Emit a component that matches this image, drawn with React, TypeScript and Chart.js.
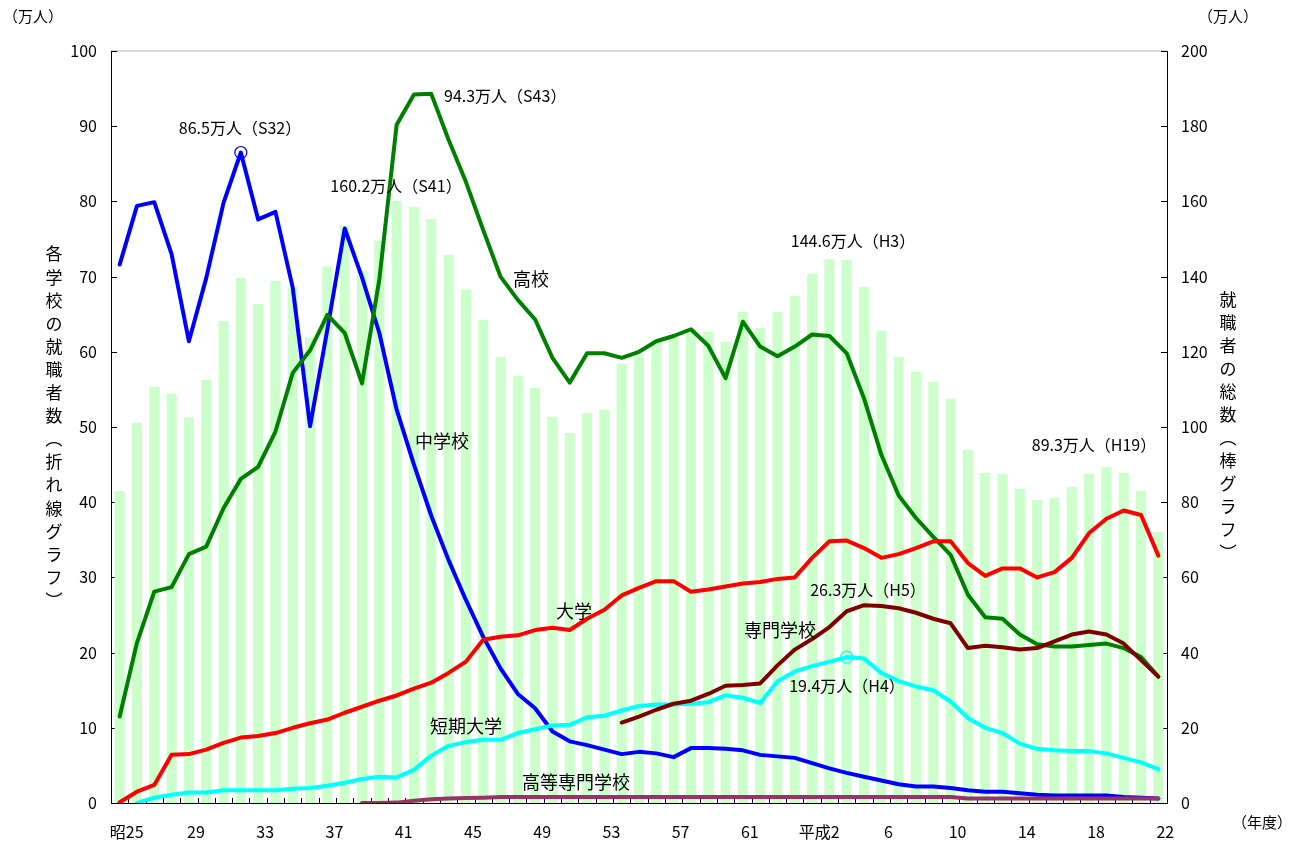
import React, { useEffect, useRef } from 'react';
import { Chart, registerables } from 'chart.js';

Chart.register(...registerables);

// Fiscal years 昭和25 (1950) … 平成22 (2010)
const categories = [
  '1950', '1951', '1952', '1953', '1954', '1955', '1956', '1957', '1958', '1959',
  '1960', '1961', '1962', '1963', '1964', '1965', '1966', '1967', '1968', '1969',
  '1970', '1971', '1972', '1973', '1974', '1975', '1976', '1977', '1978', '1979',
  '1980', '1981', '1982', '1983', '1984', '1985', '1986', '1987', '1988', '1989',
  '1990', '1991', '1992', '1993', '1994', '1995', '1996', '1997', '1998', '1999',
  '2000', '2001', '2002', '2003', '2004', '2005', '2006', '2007', '2008', '2009',
  '2010',
];

const xTickLabels = ['昭25', '29', '33', '37', '41', '45', '49', '53', '57', '61', '平成2', '6', '10', '14', '18', '22'];

// 就職者の総数 (万人, right axis, bars)
const totalEmployed = [
  83.0, 101.1, 110.7, 108.8, 102.5, 112.5, 128.2, 139.7, 132.7, 138.9,
  137.2, 123.8, 142.7, 153.5, 141.6, 149.6, 160.2, 158.6, 155.3, 145.8,
  136.5, 128.5, 118.7, 113.6, 110.4, 102.7, 98.4, 103.7, 104.6, 116.8,
  119.0, 123.2, 124.1, 125.8, 125.3, 122.6, 130.6, 126.4, 130.6, 134.9,
  140.7, 144.6, 144.5, 137.3, 125.6, 118.7, 114.7, 112.0, 107.5, 93.9,
  87.8, 87.5, 83.6, 80.6, 81.2, 84.1, 87.5, 89.3, 87.8, 83.0,
  72.1,
];

// 中学校 (万人)
const juniorHigh = [
  71.6, 79.4, 79.9, 73.0, 61.4, 69.8, 79.8, 86.5, 77.6, 78.6,
  68.5, 50.1, 63.0, 76.4, 69.9, 62.5, 52.3, 45.0, 38.2, 32.3,
  27.0, 22.1, 17.9, 14.5, 12.6, 9.5, 8.2, 7.7, 7.1, 6.5,
  6.8, 6.6, 6.1, 7.3, 7.3, 7.2, 7.0, 6.4, 6.2, 6.0,
  5.3, 4.6, 4.0, 3.5, 3.0, 2.5, 2.2, 2.2, 2.0, 1.7,
  1.5, 1.5, 1.3, 1.1, 1.0, 1.0, 1.0, 1.0, 0.8, 0.7,
  0.6,
];

// 高校 (万人)
const highSchool = [
  11.5, 21.3, 28.1, 28.7, 33.1, 34.1, 39.2, 43.1, 44.7, 49.4,
  57.2, 60.2, 64.9, 62.5, 55.8, 69.6, 90.2, 94.2, 94.3, 88.2,
  82.6, 76.2, 70.0, 66.9, 64.3, 59.2, 55.9, 59.8, 59.8, 59.2,
  60.0, 61.4, 62.1, 63.0, 60.8, 56.5, 64.0, 60.7, 59.4, 60.7,
  62.3, 62.1, 59.8, 53.8, 46.3, 40.9, 37.9, 35.4, 33.0, 27.7,
  24.7, 24.5, 22.4, 21.1, 20.8, 20.8, 21.0, 21.2, 20.6, 19.4,
  16.8,
];

// 大学 (万人)
const university = [
  0.1, 1.5, 2.4, 6.4, 6.5, 7.1, 8.0, 8.7, 8.9, 9.3,
  10.0, 10.6, 11.1, 12.0, 12.8, 13.6, 14.3, 15.2, 16.0, 17.3,
  18.8, 21.7, 22.1, 22.3, 23.0, 23.3, 23.0, 24.5, 25.7, 27.6,
  28.6, 29.5, 29.5, 28.1, 28.4, 28.8, 29.2, 29.4, 29.8, 30.0,
  32.6, 34.8, 34.9, 33.9, 32.6, 33.1, 33.9, 34.8, 34.8, 31.9,
  30.2, 31.2, 31.2, 30.0, 30.7, 32.6, 35.9, 37.8, 38.9, 38.3,
  32.9,
];

// 短期大学 (万人)
const juniorCollege = [
  null, 0.0, 0.7, 1.1, 1.4, 1.4, 1.7, 1.7, 1.7, 1.7,
  1.9, 2.0, 2.3, 2.7, 3.2, 3.5, 3.4, 4.4, 6.3, 7.6,
  8.1, 8.4, 8.4, 9.3, 9.8, 10.3, 10.4, 11.4, 11.6, 12.3,
  12.9, 13.1, 13.1, 13.2, 13.4, 14.3, 14.0, 13.3, 16.2, 17.5,
  18.2, 18.8, 19.4, 19.2, 17.3, 16.2, 15.5, 15.0, 13.5, 11.3,
  10.0, 9.3, 7.9, 7.2, 7.0, 6.9, 6.9, 6.6, 6.0, 5.4,
  4.5,
];

// 専門学校 (万人)
const specialTraining = [
  null, null, null, null, null, null, null, null, null, null,
  null, null, null, null, null, null, null, null, null, null,
  null, null, null, null, null, null, null, null, null, 10.7,
  11.5, 12.4, 13.2, 13.6, 14.5, 15.6, 15.7, 15.9, 18.3, 20.4,
  21.8, 23.4, 25.5, 26.3, 26.2, 25.9, 25.3, 24.5, 23.9, 20.6,
  20.9, 20.7, 20.4, 20.6, 21.5, 22.4, 22.8, 22.4, 21.2, 19.0,
  16.8,
];

// 高等専門学校 (万人)
const technicalCollege = [
  null, null, null, null, null, null, null, null, null, null,
  null, null, null, null, 0.0, 0.0, 0.05, 0.3, 0.5, 0.6,
  0.65, 0.7, 0.8, 0.8, 0.8, 0.8, 0.8, 0.8, 0.8, 0.8,
  0.8, 0.8, 0.8, 0.8, 0.8, 0.8, 0.8, 0.8, 0.8, 0.8,
  0.8, 0.8, 0.8, 0.8, 0.8, 0.8, 0.8, 0.8, 0.8, 0.6,
  0.6, 0.6, 0.6, 0.6, 0.6, 0.6, 0.6, 0.6, 0.6, 0.6,
  0.6,
];

const juniorHighPeakIndex = 7; // S32
const juniorCollegePeakIndex = 42; // H4

const FONT = '"Noto Sans CJK JP", "Noto Sans", sans-serif';

const leftTitle = '各学校の就職者数︵折れ線グラフ︶';
const rightTitle = '就職者の総数︵棒グラフ︶';

type Note = { text: string; x: number; y: number; align: CanvasTextAlign; size: number };

const notes: Note[] = [
  { text: '86.5万人（S32）', x: 240, y: 128, align: 'center', size: 16 },
  { text: '160.2万人（S41）', x: 396, y: 186, align: 'center', size: 16 },
  { text: '94.3万人（S43）', x: 444, y: 96, align: 'left', size: 16 },
  { text: '144.6万人（H3）', x: 853, y: 241, align: 'center', size: 16 },
  { text: '89.3万人（H19）', x: 1094, y: 445, align: 'center', size: 16 },
  { text: '26.3万人（H5）', x: 868, y: 590, align: 'center', size: 16 },
  { text: '19.4万人（H4）', x: 847, y: 686, align: 'center', size: 16 },
  { text: '高校', x: 531, y: 279, align: 'center', size: 18 },
  { text: '中学校', x: 442, y: 441, align: 'center', size: 18 },
  { text: '大学', x: 574, y: 611, align: 'center', size: 18 },
  { text: '専門学校', x: 780, y: 630, align: 'center', size: 18 },
  { text: '短期大学', x: 466, y: 726, align: 'center', size: 18 },
  { text: '高等専門学校', x: 576, y: 782, align: 'center', size: 18 },
  { text: '（万人）', x: 33, y: 16, align: 'center', size: 15 },
  { text: '（万人）', x: 1228, y: 16, align: 'center', size: 15 },
  { text: '（年度）', x: 1262, y: 822, align: 'center', size: 15 },
];

const decorPlugin = {
  id: 'decor',
  beforeDatasetsDraw(chart: any) {
    const { ctx, chartArea, scales } = chart;
    const { left, right, top, bottom } = chartArea;
    ctx.save();
    ctx.strokeStyle = '#d9d9d9';
    ctx.lineWidth = 2;
    ctx.beginPath();
    ctx.moveTo(left, top);
    ctx.lineTo(right, top);
    ctx.stroke();

    ctx.strokeStyle = '#000';
    ctx.lineWidth = 1;
    ctx.beginPath();
    for (let v = 0; v <= 100; v += 10) {
      const y = Math.round(scales.y.getPixelForValue(v)) + 0.5;
      ctx.moveTo(left, y);
      ctx.lineTo(left + 6, y);
    }
    for (let v = 0; v <= 200; v += 20) {
      const y = Math.round(scales.y1.getPixelForValue(v)) + 0.5;
      ctx.moveTo(right - 6, y);
      ctx.lineTo(right, y);
    }
    const n = categories.length;
    for (let i = 0; i <= n; i++) {
      const x = Math.round(left + (i * (right - left)) / n) + 0.5;
      ctx.moveTo(x, bottom);
      ctx.lineTo(x, bottom - 5);
    }
    ctx.stroke();
    ctx.restore();
  },
  afterDraw(chart: any) {
    const { ctx } = chart;
    ctx.save();
    ctx.fillStyle = '#000';
    ctx.textBaseline = 'middle';
    for (const n of notes) {
      ctx.font = `${n.size}px ${FONT}`;
      ctx.textAlign = n.align;
      ctx.fillText(n.text, n.x, n.y);
    }
    ctx.font = `17px ${FONT}`;
    ctx.textAlign = 'center';
    Array.from(leftTitle).forEach((ch, i) => {
      ctx.fillText(ch, 54, 254 + i * 23.1);
    });
    Array.from(rightTitle).forEach((ch, i) => {
      ctx.fillText(ch, 1228, 300 + i * 23.0);
    });
    ctx.restore();
  },
};

export default function App() {
  const ref = useRef<HTMLCanvasElement>(null);

  useEffect(() => {
    document.body.style.margin = '0';
    const lineBase = {
      type: 'line' as const,
      yAxisID: 'y',
      borderWidth: 4,
      tension: 0,
      pointRadius: 0,
      spanGaps: false,
      borderJoinStyle: 'round' as const,
      borderCapStyle: 'round' as const,
    };
    const chart = new Chart(ref.current!, {
      type: 'bar',
      data: {
        labels: categories,
        datasets: [
          {
            type: 'bar',
            label: '就職者の総数',
            data: totalEmployed,
            yAxisID: 'y1',
            backgroundColor: '#CCFFCC',
            barPercentage: 0.58,
            categoryPercentage: 1,
            order: 10,
          },
          {
            ...lineBase,
            label: '中学校',
            data: juniorHigh,
            borderColor: '#0000FF',
            order: 7,
            pointRadius: (c: any) => (c.dataIndex === juniorHighPeakIndex ? 6 : 0),
            pointBorderColor: '#0000FF',
            pointBackgroundColor: 'rgba(0,0,0,0)',
            pointBorderWidth: 1.2,
          },
          {
            ...lineBase,
            label: '短期大学',
            data: juniorCollege,
            borderColor: '#00FFFF',
            order: 6,
            pointRadius: (c: any) => (c.dataIndex === juniorCollegePeakIndex ? 6 : 0),
            pointBorderColor: '#00FFFF',
            pointBackgroundColor: 'rgba(0,0,0,0)',
            pointBorderWidth: 1.2,
          },
          { ...lineBase, label: '高校', data: highSchool, borderColor: '#008000', order: 5 },
          { ...lineBase, label: '大学', data: university, borderColor: '#FF0000', order: 4 },
          { ...lineBase, label: '専門学校', data: specialTraining, borderColor: '#800000', order: 3 },
          { ...lineBase, label: '高等専門学校', data: technicalCollege, borderColor: '#993366', order: 2 },
        ] as any,
      },
      options: {
        responsive: false,
        animation: false,
        devicePixelRatio: 1,
        layout: { padding: { top: 51, left: 0, right: 0, bottom: 0 } },
        plugins: {
          legend: { display: false },
          tooltip: { enabled: false },
        },
        scales: {
          x: {
            type: 'category',
            offset: true,
            grid: { display: false, drawTicks: false },
            border: { display: true, color: '#000', width: 1 },
            ticks: {
              autoSkip: false,
              maxRotation: 0,
              minRotation: 0,
              labelOffset: 7,
              padding: 19,
              color: '#000',
              font: { family: FONT, size: 16 },
              callback: (_v: any, i: number) => (i % 4 === 0 ? xTickLabels[i / 4] : ''),
            },
            afterFit: (s: any) => {
              s.height = 40;
            },
          },
          y: {
            position: 'left',
            min: 0,
            max: 100,
            grid: { display: false, drawTicks: false },
            border: { display: true, color: '#000', width: 1 },
            ticks: { stepSize: 10, padding: 14, color: '#000', font: { family: FONT, size: 16 } },
            afterFit: (s: any) => {
              s.width = 111;
            },
          },
          y1: {
            position: 'right',
            min: 0,
            max: 200,
            grid: { display: false, drawTicks: false },
            border: { display: true, color: '#000', width: 1 },
            ticks: { stepSize: 20, padding: 14, color: '#000', font: { family: FONT, size: 16 } },
            afterFit: (s: any) => {
              s.width = 131;
            },
          },
        } as any,
      },
      plugins: [decorPlugin],
    });
    return () => chart.destroy();
  }, []);

  return (
    <div style={{ position: 'fixed', left: 0, top: 0, width: 1298, height: 843, background: '#fff' }}>
      <canvas ref={ref} width={1298} height={843} style={{ width: 1298, height: 843, display: 'block' }} />
    </div>
  );
}
